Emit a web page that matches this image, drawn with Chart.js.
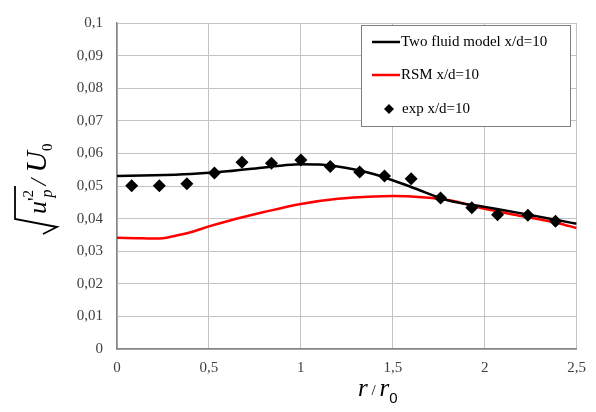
<!DOCTYPE html>
<html>
<head>
  <meta charset="UTF-8">
  <title>u'p / U0</title>
  <script src="https://cdn.jsdelivr.net/npm/chart.js"></script>
  <style>
    html, body { margin: 0; padding: 0; background: #fff; }
    #wrap { width: 596px; height: 412px; position: relative; }
  </style>
</head>
<body>
  <div id="wrap"><canvas id="c"></canvas></div>
  <script>
    // data
    const twoFluidR = [0, 0.2, 0.4, 0.6, 0.8, 0.9, 1.0, 1.1, 1.2, 1.3, 1.4, 1.6, 1.8, 2.0, 2.2, 2.4, 2.5]
    const twoFluidV = [0.0531, 0.0533, 0.0537, 0.0545, 0.0557, 0.0563, 0.0567, 0.0566, 0.0560, 0.0550, 0.0536, 0.0497, 0.0456, 0.0436, 0.0416, 0.0395, 0.0384]
    const rsmR = [0, 0.1, 0.2, 0.25, 0.3, 0.4, 0.5, 0.6, 0.8, 1.0, 1.2, 1.4, 1.5, 1.6, 1.8, 2.0, 2.2, 2.4, 2.5]
    const rsmV = [0.0341, 0.034, 0.0339, 0.034, 0.0345, 0.0358, 0.0376, 0.0392, 0.0420, 0.0445, 0.0461, 0.0468, 0.0469, 0.0468, 0.0457, 0.0430, 0.0408, 0.0386, 0.0371]
    const expR = [0.08, 0.23, 0.38, 0.53, 0.68, 0.84, 1.0, 1.16, 1.32, 1.455, 1.6, 1.76, 1.93, 2.07, 2.235, 2.385]
    const expV = [0.0501, 0.0501, 0.0507, 0.054, 0.0573, 0.057, 0.058, 0.056, 0.0543, 0.0531, 0.0522, 0.0463, 0.0433, 0.0412, 0.041, 0.0392]
    const xTickLabels = ['0', '0,5', '1', '1,5', '2', '2,5']
    const yTickLabels = ['0', '0,01', '0,02', '0,03', '0,04', '0,05', '0,06', '0,07', '0,08', '0,09', '0,1']
    const seriesLabels = ['Two fluid model x/d=10', 'RSM x/d=10', 'exp x/d=10']

    const pts = (xs, ys) => xs.map((x, i) => ({ x: x, y: ys[i] }))
    const serif = '"Liberation Serif", "Times New Roman", serif'

    // legend box drawn inside the plot
    const legendBox = {
      id: 'legendBox',
      afterDraw (chart) {
        const ctx = chart.ctx
        const x0 = 361, y0 = 25, w = 209, h = 101
        ctx.save()
        ctx.fillStyle = '#fff'
        ctx.fillRect(x0, y0, w, h)
        ctx.strokeStyle = '#7f7f7f'
        ctx.lineWidth = 1
        ctx.strokeRect(x0 + 0.5, y0 + 0.5, w, h)
        ctx.font = '15px ' + serif
        ctx.fillStyle = '#000'
        ctx.textBaseline = 'middle'
        const rows = [42, 75, 109]
        chart.data.datasets.forEach((ds, i) => {
          const y = rows[i]
          if (ds.showLine === false) {
            ctx.beginPath()
            ctx.moveTo(389, y - 5); ctx.lineTo(394, y); ctx.lineTo(389, y + 5); ctx.lineTo(384, y)
            ctx.closePath()
            ctx.fill()
            ctx.fillText(ds.label, 402, y)
          } else {
            ctx.strokeStyle = ds.borderColor
            ctx.lineWidth = 2.5
            ctx.beginPath(); ctx.moveTo(372, y); ctx.lineTo(400, y); ctx.stroke()
            ctx.fillText(ds.label, 401, y)
          }
        })
        ctx.restore()
      }
    }

    // axis titles with sub/superscripts
    const axisTitles = {
      id: 'axisTitles',
      afterDraw (chart) {
        const ctx = chart.ctx
        ctx.save()
        ctx.fillStyle = '#000'
        ctx.strokeStyle = '#000'
        ctx.textBaseline = 'alphabetic'
        // x title: r / r0
        let x = 358
        const yb = 396
        ctx.font = 'italic 25px ' + serif
        ctx.fillText('r', x, yb); x += ctx.measureText('r').width
        ctx.font = '15px ' + serif
        ctx.fillText(' / ', x, yb - 1); x += ctx.measureText(' / ').width
        ctx.font = 'italic 25px ' + serif
        ctx.fillText('r', x, yb); x += ctx.measureText('r').width
        ctx.font = '15px "Liberation Sans", Arial, sans-serif'
        ctx.fillText('0', x, yb + 7)

        // y title: sqrt(u'p^2) / U0, rotated
        ctx.lineWidth = 1.8
        ctx.beginPath()
        ctx.moveTo(43, 234); ctx.lineTo(57, 227); ctx.lineTo(15, 219); ctx.lineTo(15, 186)
        ctx.stroke()
        ctx.translate(46, 214)
        ctx.rotate(-Math.PI / 2)
        let t = 0
        ctx.font = 'italic 26px ' + serif
        ctx.fillText('u', t, 0); t += ctx.measureText('u').width
        ctx.font = '20px ' + serif
        ctx.fillText('\'', t, -4); t += ctx.measureText('\'').width
        ctx.font = '15px ' + serif
        ctx.fillText('2', t, -13)
        ctx.font = 'italic 16px ' + serif
        ctx.fillText('p', t, 6); t += ctx.measureText('p').width + 4
        ctx.font = 'italic 24px ' + serif
        ctx.fillText('/', t, 0); t += ctx.measureText('/ ').width
        ctx.font = 'italic 30px ' + serif
        ctx.fillText('U', t, 0); t += ctx.measureText('U').width
        ctx.font = '15px ' + serif
        ctx.fillText('0', t, 6)
        ctx.restore()
      }
    }

    new Chart(document.getElementById('c'), {
      type: 'scatter',
      data: {
        datasets: [
          {
            label: seriesLabels[0],
            data: pts(twoFluidR, twoFluidV),
            showLine: true,
            borderColor: '#000',
            borderWidth: 2.5,
            pointRadius: 0,
            cubicInterpolationMode: 'monotone',
            order: 1
          },
          {
            label: seriesLabels[1],
            data: pts(rsmR, rsmV),
            showLine: true,
            borderColor: '#ff0000',
            borderWidth: 2.5,
            pointRadius: 0,
            cubicInterpolationMode: 'monotone',
            order: 2
          },
          {
            label: seriesLabels[2],
            data: pts(expR, expV),
            showLine: false,
            pointStyle: 'rectRot',
            pointRadius: 6.5,
            backgroundColor: '#000',
            borderColor: '#000',
            borderWidth: 0,
            order: 0
          }
        ]
      },
      options: {
        responsive: true,
        maintainAspectRatio: false,
        animation: false,
        layout: { padding: { left: 0, right: 17, top: 12, bottom: 0 } },
        plugins: { legend: { display: false }, tooltip: { enabled: false } },
        scales: {
          x: {
            type: 'linear',
            min: 0,
            max: 2.5,
            afterFit (s) { s.height = 63 },
            border: { color: '#868686', width: 1.5 },
            grid: { color: '#c3c3c3', drawTicks: false },
            ticks: {
              stepSize: 0.5,
              padding: 10,
              color: '#404040',
              font: { family: serif, size: 15 },
              callback: (v, i) => xTickLabels[i]
            }
          },
          y: {
            min: 0,
            max: 0.1,
            afterFit (s) { s.width = 117 },
            border: { color: '#868686', width: 1.5 },
            grid: { color: '#c3c3c3', drawTicks: false },
            ticks: {
              stepSize: 0.01,
              padding: 14,
              color: '#404040',
              font: { family: serif, size: 15 },
              callback: (v, i) => yTickLabels[i]
            }
          }
        }
      },
      plugins: [legendBox, axisTitles]
    })
  </script>
</body>
</html>
